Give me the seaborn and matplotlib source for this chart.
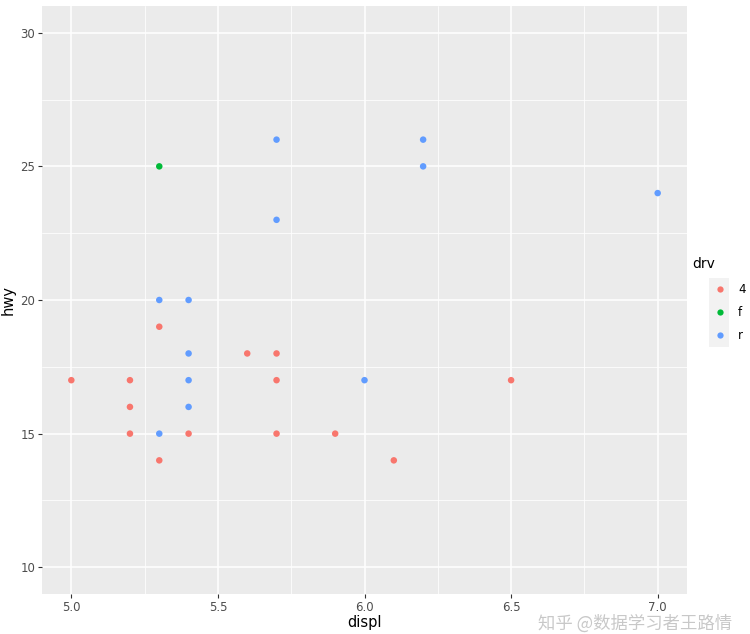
import matplotlib
matplotlib.use("Agg")
import matplotlib.pyplot as plt
import seaborn as sns
import pandas as pd
from matplotlib.lines import Line2D
from matplotlib.patches import Rectangle

displ = [5.0, 5.2, 5.2, 5.2, 5.3, 5.3, 5.3, 5.3, 5.3, 5.4, 5.4, 5.4, 5.4, 5.4,
         5.6, 5.7, 5.7, 5.7, 5.7, 5.7, 5.9, 6.0, 6.1, 6.2, 6.2, 6.5, 7.0]
hwy = [17, 17, 16, 15, 25, 20, 19, 15, 14, 20, 18, 17, 16, 15,
       18, 26, 23, 18, 17, 15, 15, 17, 14, 26, 25, 17, 24]
drv = ["4", "4", "4", "4", "f", "r", "4", "r", "4", "r", "r", "r", "r", "4",
       "4", "r", "r", "4", "4", "4", "4", "r", "4", "r", "r", "4", "r"]
drv_levels = ["4", "f", "r"]
palette = {"4": "#F8766D", "f": "#00BA38", "r": "#619CFF"}
x_ticks = [5.0, 5.5, 6.0, 6.5, 7.0]
y_ticks = [10, 15, 20, 25, 30]

df = pd.DataFrame({"displ": displ, "hwy": hwy, "drv": drv})

sns.set_theme(style="white")
plt.rcParams['font.family'] = ['DejaVu Sans', 'Noto Sans CJK SC']

W, H = 750, 634
fig = plt.figure(figsize=(7.5, 6.34), dpi=100)
ax = fig.add_axes([42 / W, 1 - 594 / H, (687 - 42) / W, (594 - 6) / H])
ax.set_facecolor("#EBEBEB")

sns.scatterplot(data=df, x="displ", y="hwy", hue="drv", hue_order=drv_levels,
                palette=palette, s=22, edgecolor="none", ax=ax, zorder=3,
                legend=False)

ax.set_xlim(4.9, 7.1)
ax.set_ylim(9, 31)
ax.set_xticks(x_ticks)
ax.set_xticklabels([f"{v:.1f}" for v in x_ticks])
ax.set_yticks(y_ticks)
ax.set_yticklabels([str(v) for v in y_ticks])
ax.set_xticks([5.25, 5.75, 6.25, 6.75], minor=True)
ax.set_yticks([12.5, 17.5, 22.5, 27.5], minor=True)
ax.grid(which="major", color="white", linewidth=1.1, zorder=0)
ax.grid(which="minor", color="white", linewidth=0.55, zorder=0)
ax.set_axisbelow(True)
for sp in ax.spines.values():
    sp.set_visible(False)
ax.tick_params(axis="both", which="major", length=3, width=0.8, color="#333333",
               labelsize=8.5, labelcolor="#4D4D4D", pad=2, direction="out",
               bottom=True, left=True)
ax.tick_params(axis="both", which="minor", length=0)
ax.set_xlabel("displ", fontsize=10.5, color="black", labelpad=1)
ax.set_ylabel("hwy", fontsize=10.5, color="black", labelpad=3)

# ggplot-style legend drawn in figure pixels
def fx(px):
    return px / W

def fy(py):
    return 1 - py / H

fig.text(fx(692), fy(264), "drv", fontsize=10, color="black", ha="left", va="center")
fig.patches.append(Rectangle((fx(709), fy(347)), 20 / W, 69 / H,
                             transform=fig.transFigure, facecolor="#F2F2F2",
                             edgecolor="none", zorder=0))
for i, k in enumerate(drv_levels):
    yy = 289 + 23 * i
    fig.lines.append(Line2D([fx(720)], [fy(yy)], transform=fig.transFigure,
                            marker="o", linestyle="none", markersize=4.5,
                            markerfacecolor=palette[k], markeredgecolor="none",
                            zorder=2))
    fig.text(fx(738), fy(yy), k, fontsize=8.5, color="black", ha="left", va="center")

fig.text(fx(732), fy(624), "知乎 @数据学习者王路情", ha="right", va="center",
         fontsize=12.5, color="#BBBBBB", alpha=0.8,
         family=["Noto Sans CJK SC", "DejaVu Sans"])

fig.savefig("out.png", dpi=100, facecolor="white")
